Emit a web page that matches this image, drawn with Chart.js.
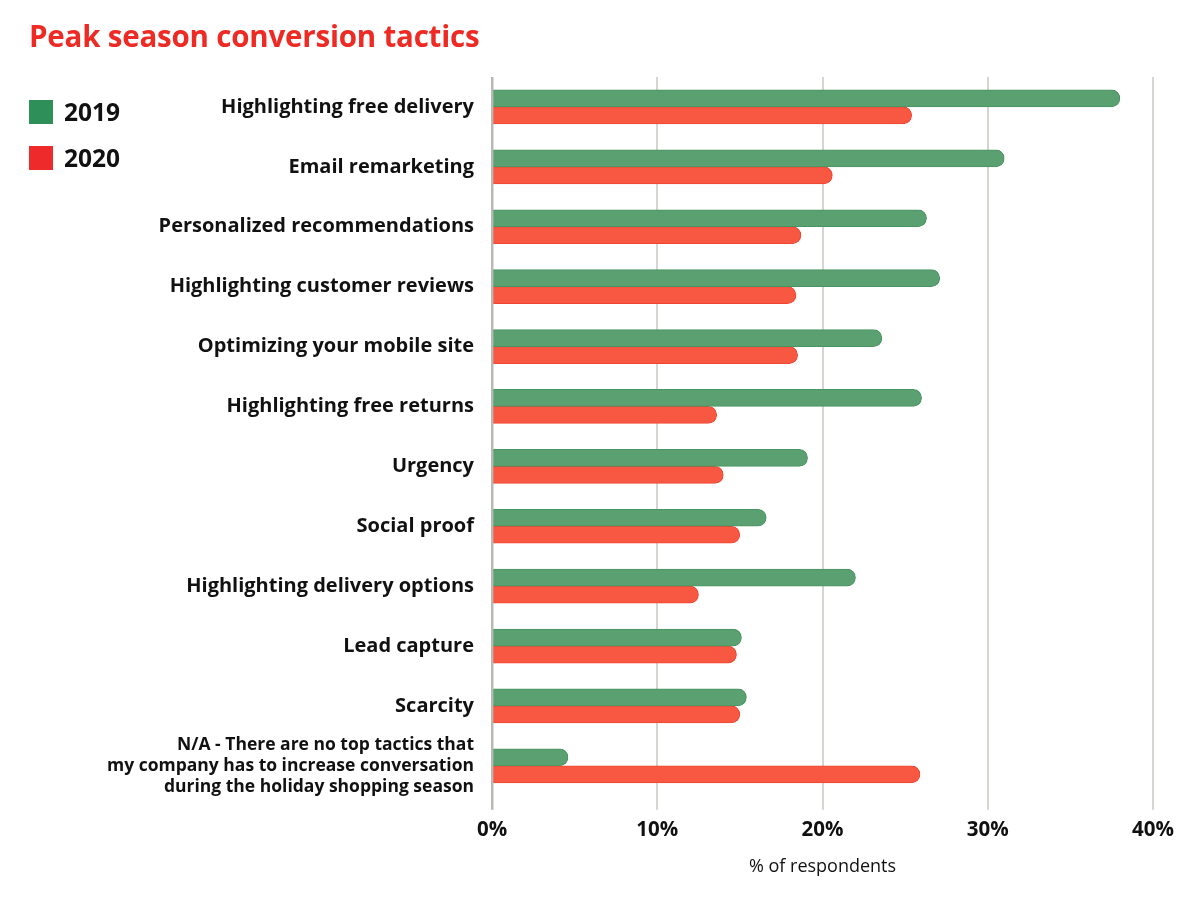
<!DOCTYPE html>
<html>
<head>
<meta charset="utf-8">
<script src="https://cdn.jsdelivr.net/npm/chart.js@4/dist/chart.umd.min.js"></script>
<style>
  body { margin: 0; background: #fff; font-family: "Open Sans", Lato, sans-serif; }
  #wrap { position: relative; width: 1200px; height: 898px; }
  #title { position: absolute; left: 29px; top: 15px; font-size: 29.5px; font-weight: 700; color: #ee2a24; letter-spacing: -0.2px; }
  .leg { position: absolute; left: 29px; font-size: 24.5px; font-weight: 700; color: #111; display: flex; align-items: center; }
  .leg span { display: inline-block; width: 24px; height: 24px; margin-right: 11px; }
</style>
</head>
<body>
<div id="wrap">
  <div id="title">Peak season conversion tactics</div>
  <div class="leg" style="top:95px"><span style="background:#2e9058"></span>2019</div>
  <div class="leg" style="top:141px"><span style="background:#ee2a2a"></span>2020</div>
  <canvas id="chart" width="1200" height="898"></canvas>
</div>
<script>
const categories = [
  'Highlighting free delivery',
  'Email remarketing',
  'Personalized recommendations',
  'Highlighting customer reviews',
  'Optimizing your mobile site',
  'Highlighting free returns',
  'Urgency',
  'Social proof',
  'Highlighting delivery options',
  'Lead capture',
  'Scarcity',
  ['N/A - There are no top tactics that', 'my company has to increase conversation', 'during the holiday shopping season']
];
const values2019 = [38.0, 31.0, 26.3, 27.1, 23.6, 26.0, 19.1, 16.6, 22.0, 15.1, 15.4, 4.6];
const values2020 = [25.4, 20.6, 18.7, 18.4, 18.5, 13.6, 14.0, 15.0, 12.5, 14.8, 15.0, 25.9];
const xTicks = [0, 10, 20, 30, 40];

const FONT = '"Open Sans", Lato, sans-serif';

new Chart(document.getElementById('chart'), {
  type: 'bar',
  data: {
    labels: categories,
    datasets: [
      { label: '2019', data: values2019, backgroundColor: '#5ba070', borderColor: '#4a9462', borderWidth: 1, borderRadius: 9, barThickness: 17 },
      { label: '2020', data: values2020, backgroundColor: '#f85841', borderColor: '#ef4633', borderWidth: 1, borderRadius: 9, barThickness: 17 }
    ]
  },
  options: {
    indexAxis: 'y',
    responsive: false,
    animation: false,
    layout: { padding: { top: 77, right: 47, left: 0, bottom: 16 } },
    plugins: { legend: { display: false }, tooltip: { enabled: false } },
    scales: {
      x: {
        min: 0, max: 40,
        afterBuildTicks: s => { s.ticks = xTicks.map(v => ({ value: v })); },
        grid: {
          color: c => c.index === 0 ? '#b8b8b4' : '#d6d6d1',
          lineWidth: c => c.index === 0 ? 2.5 : 2,
          tickLength: 14
        },
        border: { display: false },
        ticks: { color: '#111', font: { family: FONT, size: 20.5, weight: 'bold' }, padding: 8, callback: v => v + '%' },
        title: { display: true, text: '% of respondents', color: '#111', font: { family: FONT, size: 18 }, padding: { top: 6 } }
      },
      y: {
        afterFit: s => { s.width = 492; },
        grid: { display: false },
        border: { display: false },
        ticks: {
          color: '#111',
          padding: 10,
          autoSkip: false,
          font: c => c.index === 11
            ? { family: FONT, size: 17.5, weight: 'bold', lineHeight: 1.2 }
            : { family: FONT, size: 20, weight: 'bold' }
        }
      }
    }
  }
});
</script>
</body>
</html>
